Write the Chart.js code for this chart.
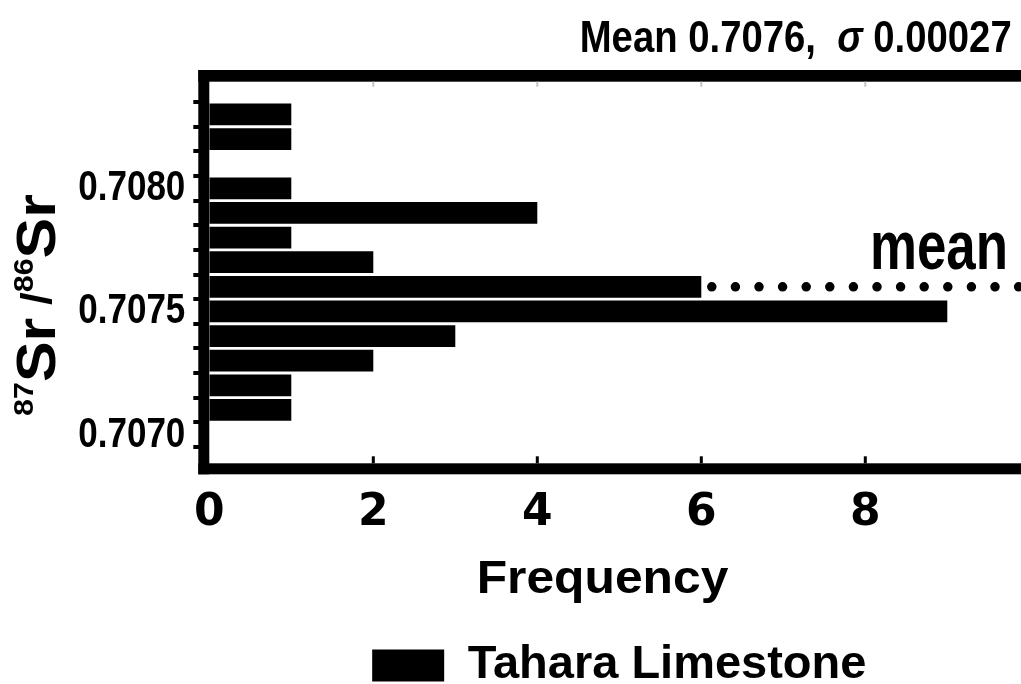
<!DOCTYPE html>
<html><head><meta charset="utf-8">
<script src="https://cdn.jsdelivr.net/npm/chart.js@4.4.1/dist/chart.umd.min.js"></script>
<style>html,body{margin:0;padding:0;overflow:hidden;background:#fff;width:1021px;height:684px}canvas{display:block}</style>
</head><body>
<canvas id="c" width="1040" height="699"></canvas>
<script>
// ---- data ----
const categories = ['0.7069','0.7070','0.7071','0.7072','0.7073','0.7074','0.7075','0.7076','0.7077','0.7078','0.7079','0.7080','0.7081','0.7082','0.7083','0.7084'];
const frequencies = [0,0,1,1,2,3,9,6,2,1,4,1,0,1,1,0];
const yTickLabels = ['0.7070','0.7075','0.7080'];
const xTickValues = [0,2,4,6,8];
const seriesName = 'Tahara Limestone';
const meanValue = 0.7076;
const sigmaValue = 0.00027;
const meanLineX = [0, 10];
const xAxisTitle = 'Frequency';
const meanLabel = 'mean';

const SANS = "'Liberation Sans', Arial, sans-serif";

function drawFit(ctx, text, font, x, y, align, targetW, sy, baseline){
  ctx.save();
  ctx.font = font; ctx.textBaseline = baseline || 'alphabetic'; ctx.textAlign = align;
  const w = ctx.measureText(text).width;
  const sx = targetW ? targetW / w : 1;
  ctx.translate(x, y); ctx.scale(sx, sy || 1);
  ctx.fillText(text, 0, 0);
  ctx.restore();
}

const decorPlugin = {
  id: 'decor',
  afterDatasetsDraw(chart){
    const {ctx, chartArea:{left, top, right, bottom}, scales:{x}} = chart;
    ctx.save();
    ctx.fillStyle = '#000';
    ctx.fillRect(left - 11, top - 7.5, 11, bottom - top + 10.3);
    ctx.fillRect(left - 11, top - 7.5, right - left + 22, 11.7);
    ctx.fillRect(left - 11, bottom - 8.2, right - left + 22, 11);
    ctx.fillRect(right - 5, top - 7.5, 11, bottom - top + 10.3);
    x.ticks.forEach(t => {
      const px = x.getPixelForValue(t.value);
      if (t.value <= x.min || t.value >= x.max) return;
      ctx.fillStyle = '#000';
      ctx.fillRect(px - 1.5, bottom - 8.2 - 7, 3, 7);
      ctx.fillStyle = '#c4c4c4';
      ctx.fillRect(px - 1, top + 4.2, 2, 5);
    });
    ctx.restore();
  },
  afterDraw(chart){
    const {ctx, chartArea:{left, right}, scales:{y}} = chart;
    ctx.save();
    ctx.fillStyle = '#000';

    // y tick labels (condensed, tall) at the category positions of the y scale
    y.ticks.forEach((t, i) => {
      const lab = y.getLabelForValue(t.value);
      if (!yTickLabels.includes(lab)) return;
      const py = y.getPixelForTick(i);
      drawFit(ctx, lab, 'bold 35px ' + SANS, left - 24, py, 'right', 107, 1.24, 'middle');
    });

    // top title with italic sigma
    const parts = [
      {t:'Mean ' + meanValue.toFixed(4) + ',  ', f:'bold 40px ' + SANS},
      {t:'\u03c3', f:'italic bold 40px ' + SANS},
      {t:' ' + sigmaValue.toFixed(5), f:'bold 40px ' + SANS}
    ];
    let W = 0;
    parts.forEach(p => { ctx.font = p.f; p.w = ctx.measureText(p.t).width; W += p.w; });
    const tW = 432, tx0 = 1011.7 - tW, sx = tW / W;
    ctx.save(); ctx.translate(tx0, 52); ctx.scale(sx, 1.12);
    let cx = 0; ctx.textBaseline = 'alphabetic'; ctx.textAlign = 'left';
    parts.forEach(p => { ctx.font = p.f; ctx.fillText(p.t, cx, 0); cx += p.w; });
    ctx.restore();

    // "mean" label above the mean line
    const my = y.getPixelForValue(categories.indexOf(meanValue.toFixed(4)));
    drawFit(ctx, meanLabel, 'bold 53px ' + SANS, right - 21.3, my - 18, 'right', 138, 1.28);

    // x-axis title
    drawFit(ctx, xAxisTitle, 'bold 46px ' + SANS, 602.5, 593, 'center', 251.7, 1);

    // y-axis title: 87Sr /86Sr rotated
    const segs = [
      {t:'87', f:'bold 28px ' + SANS, dy:-22},
      {t:'Sr', f:'bold 56px ' + SANS, dy:0},
      {t:' /', f:'bold 42px ' + SANS, dy:-4},
      {t:'86', f:'bold 28px ' + SANS, dy:-22},
      {t:'Sr', f:'bold 56px ' + SANS, dy:0}
    ];
    let SW = 0;
    segs.forEach(s => { ctx.font = s.f; s.w = ctx.measureText(s.t).width; SW += s.w; });
    ctx.save();
    ctx.translate(55, 416); ctx.rotate(-Math.PI / 2);
    ctx.scale(222 / SW, 1);
    let sx0 = 0; ctx.textAlign = 'left'; ctx.textBaseline = 'alphabetic';
    segs.forEach(s => { ctx.font = s.f; ctx.fillText(s.t, sx0, s.dy); sx0 += s.w; });
    ctx.restore();
    ctx.restore();
  }
};

new Chart(document.getElementById('c').getContext('2d'), {
  type: 'bar',
  data: {
    labels: categories,
    datasets: [
      {type:'bar', label: seriesName, data: frequencies, backgroundColor:'#000', borderWidth:0,
       barPercentage:0.88, categoryPercentage:1, order:0},
      {type:'line', label: meanLabel, data: meanLineX.map(v => ({x: v, y: meanValue.toFixed(4)})),
       borderColor:'#000', borderWidth:9.5, borderDash:[0, 23.6], borderDashOffset:16.7,
       borderCapStyle:'round', pointRadius:0, fill:false, order:1}
    ]
  },
  options: {
    indexAxis: 'y', responsive: false, animation: false,
    layout: {padding: {left: 79.3, right: 10.7, top: 77.5, bottom: 0}},
    plugins: {
      legend: {position:'bottom', fullSize:false,
        labels: {boxWidth:72, boxHeight:32, padding:10, color:'#000',
          font:{family:"'Liberation Sans'", size:47, weight:'bold'},
          filter: item => item.datasetIndex === 0}},
      tooltip: {enabled:false},
      title: {display:false}
    },
    scales: {
      x: {type:'linear', min:0, max:10,
        afterFit: s => { s.height = 160.5; },
        grid: {display:false}, border: {display:false},
        ticks: {stepSize:2, padding:8, color:'#000',
          font:{family:"'DejaVu Sans'", size:44, weight:'bold'},
          callback: v => xTickValues.includes(v) ? String(v) : ''}},
      y: {type:'category', reverse:true, offset:true,
        afterFit: s => { s.width = 130; },
        grid: {display:true, offset:true, drawOnChartArea:false, drawTicks:true, tickLength:16,
          tickWidth:4, lineWidth:4, color:'#000',
          tickColor: c => (c.index === undefined || c.index === 0) ? 'rgba(0,0,0,0)' : '#000'},
        border: {display:false},
        ticks: {display:false, autoSkip:false}}
    }
  },
  plugins: [decorPlugin]
});
</script>
</body></html>
